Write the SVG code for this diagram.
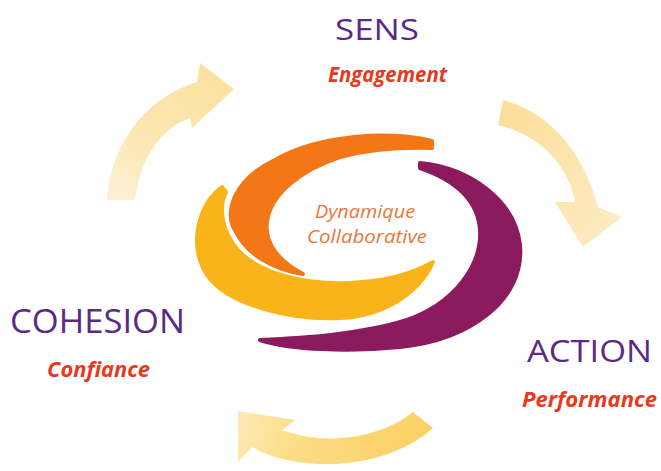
<svg xmlns="http://www.w3.org/2000/svg" width="661" height="471" viewBox="0 0 661 471">
<defs>
<style>
.title{font-family:"Open Sans","Lato","Liberation Sans",sans-serif;fill:#5a2a86;font-weight:400}
.sub{font-family:"Open Sans","Lato","Liberation Sans",sans-serif;fill:#e8391c;font-weight:700;font-style:italic;font-size:22px}
.center{font-family:"Open Sans","Lato","Liberation Sans",sans-serif;fill:#e8783a;font-size:18px;font-style:italic}
.swirl{stroke-width:4;stroke-linejoin:round}
</style>
<linearGradient id="gTL" x1="0" y1="1" x2="0.6" y2="0">
<stop offset="0" stop-color="#fdf1d8"/>
<stop offset="0.5" stop-color="#fce6b0"/>
<stop offset="1" stop-color="#fbe2a2"/>
</linearGradient>
<linearGradient id="gTR" x1="0" y1="0" x2="1" y2="1">
<stop offset="0" stop-color="#fbdd96"/>
<stop offset="0.6" stop-color="#fce6b2"/>
<stop offset="1" stop-color="#fdeec8"/>
</linearGradient>
<linearGradient id="gB" x1="1" y1="0.4" x2="0" y2="0.3">
<stop offset="0" stop-color="#fcd062"/>
<stop offset="0.7" stop-color="#fcdd88"/>
<stop offset="1" stop-color="#fde9b4"/>
</linearGradient>
</defs>
<rect width="661" height="471" fill="#ffffff"/>
<g id="connectors">
<path id="arrow-cohesion-sens" fill="url(#gTL)" d="M 107,200 C 110,150 140,100 197,82 L 200,63 L 234,89 L 192,128 L 190,118 C 160,128 140,160 135,200 Z"/>
<path id="arrow-sens-action" fill="url(#gTR)" d="M 503,100 C 540,110 580,140 598,207 L 622,217 L 583,247 L 555,202 L 575,202 C 568,165 540,135 498,125 Z"/>
<path id="arrow-action-cohesion" fill="url(#gB)" d="M 413,412 C 385,435 330,448 282,430 L 295,420 L 238,411 L 238,462 L 252,447 C 290,470 380,475 433,428 Z"/>
</g>
<g id="swirl">
<path class="swirl" fill="#8b1b5e" stroke="#8b1b5e" d="M 420,163 C 470,168 515,200 520,245 C 525,300 470,340 400,347 C 350,352 290,350 260,340 C 300,338 360,335 407,320 C 455,303 482,265 480,230 C 478,200 455,180 420,168 Z"/>
<path class="swirl" fill="#f9b41a" stroke="#f9b41a" d="M 222,187 C 198,205 188,245 207,275 C 228,305 290,320 340,318 C 385,316 420,292 433,262 C 410,275 385,281 350,283 C 300,285 258,272 238,250 C 222,232 218,208 226,192 Z"/>
<path class="swirl" fill="#f37716" stroke="#f37716" d="M 432,141 C 390,131 320,134 275,160 C 236,178 222,212 236,232 C 247,255 275,270 303,274 C 280,262 264,244 267,222 C 270,195 300,170 340,157 C 370,149 400,147 432,148 Z"/>
</g>
<g id="node-center">
<text class="center" x="315" y="218" textLength="100" lengthAdjust="spacingAndGlyphs">Dynamique</text>
<text class="center" x="307" y="243" textLength="120" lengthAdjust="spacingAndGlyphs">Collaborative</text>
</g>
<g id="node-sens">
<text class="title" x="335" y="40" font-size="30" textLength="84" lengthAdjust="spacingAndGlyphs">SENS</text>
<text class="sub" x="328" y="82" textLength="119" lengthAdjust="spacingAndGlyphs">Engagement</text>
</g>
<g id="node-cohesion">
<text class="title" x="10" y="333" font-size="32" textLength="175" lengthAdjust="spacingAndGlyphs">COHESION</text>
<text class="sub" x="47" y="377" textLength="103" lengthAdjust="spacingAndGlyphs">Confiance</text>
</g>
<g id="node-action">
<text class="title" x="527" y="362" font-size="31" textLength="125" lengthAdjust="spacingAndGlyphs">ACTION</text>
<text class="sub" x="522" y="407" textLength="135" lengthAdjust="spacingAndGlyphs">Performance</text>
</g>
</svg>
